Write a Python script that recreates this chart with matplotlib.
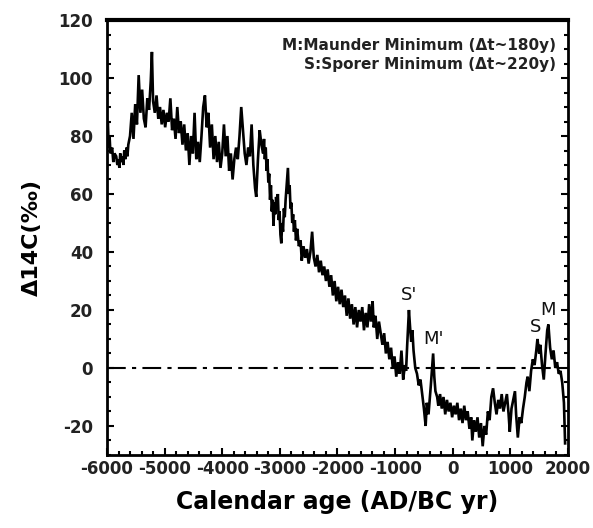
import numpy as np
import matplotlib
matplotlib.use("Agg")
import matplotlib.pyplot as plt
from matplotlib.ticker import MultipleLocator

plt.rcParams['axes.unicode_minus'] = False

# --- data (calendar year, delta 14C permil) ---
years_a = [-6000, -5985, -5970, -5955, -5940, -5910, -5890, -5870, -5840, -5820, -5800, -5785,
           -5770, -5750, -5730, -5715, -5700, -5680, -5660, -5645, -5630,
           -5600, -5570, -5540, -5510, -5480, -5450, -5420, -5390, -5360, -5330, -5300, -5270,
           -5240, -5220, -5200, -5170, -5140, -5110, -5080, -5050, -5020, -4990, -4960, -4930,
           -4900, -4870, -4840, -4810, -4780, -4750, -4720, -4690, -4660, -4630, -4600, -4570,
           -4540, -4510, -4480, -4450, -4420, -4390, -4360, -4330, -4300, -4270, -4240]
d14c_a = [78, 85, 76, 80, 74, 76, 71, 74, 73, 70, 72, 69, 74, 71, 73, 70, 75, 72, 76, 73, 77,
          80, 88, 79, 91, 84, 101, 88, 96, 86, 83, 93, 89,
          99, 109, 92, 88, 94, 86, 90, 84, 89, 83, 88, 85,
          93, 82, 86, 79, 90, 81, 85, 77, 84, 75, 81, 70,
          80, 74, 88, 72, 78, 71, 80, 90, 94, 83, 88]

years_b = [-4210, -4180, -4150, -4120, -4090, -4060, -4030, -4000, -3970, -3940, -3910, -3880,
           -3850, -3820, -3790, -3760, -3730, -3700, -3670, -3640, -3610, -3580, -3550, -3520,
           -3490, -3460, -3430, -3410, -3380, -3350, -3320, -3290, -3275, -3260, -3245, -3230,
           -3215, -3200, -3185, -3170, -3155, -3140, -3125, -3110, -3095, -3080, -3065, -3050,
           -3035, -3020, -3005, -2990, -2975, -2960, -2945, -2930, -2915, -2900, -2885, -2870,
           -2860, -2845, -2830, -2815, -2800, -2785, -2770, -2755, -2740, -2720, -2700,
           -2670, -2640, -2620, -2590, -2560, -2530, -2500,
           -2470, -2440, -2410, -2380, -2350, -2320, -2290, -2260, -2230, -2200, -2170, -2140]
d14c_b = [76, 84, 72, 80, 71, 78, 69, 74, 84, 73, 80, 68,
          74, 65, 72, 76, 72, 80, 90, 82, 74, 70, 76, 73,
          84, 70, 62, 59, 72, 82, 77, 74, 79, 72, 76, 68,
          72, 64, 67, 58, 63, 54, 58, 49, 57, 53, 59, 55,
          60, 51, 54, 46, 43, 50, 47, 55, 52, 58, 62, 66,
          69, 60, 63, 55, 57, 50, 53, 47, 51, 44, 48,
          42, 44, 37, 42, 38, 41, 36,
          40, 47, 38, 35, 39, 33, 37, 32, 35, 30, 34, 28]

years_c = [-2110, -2080, -2050, -2020, -1990, -1960, -1930, -1900, -1870, -1840, -1810, -1780,
           -1750, -1720, -1690, -1660, -1630, -1600, -1570, -1540, -1510, -1480, -1450, -1420,
           -1390, -1370, -1340, -1310, -1280, -1250, -1220, -1190, -1160, -1130, -1100, -1070,
           -1040, -1010, -980, -950, -920, -890, -860, -830, -810, -790, -770, -760, -740, -720,
           -700, -680, -650, -620, -590, -560, -530, -500, -470, -450, -420, -380, -350, -340,
           -320, -300, -270]
d14c_c = [32, 25, 30, 23, 28, 22, 27, 21, 25, 18, 24, 17,
          22, 15, 21, 14, 20, 16, 21, 13, 19, 14, 22, 16,
          23, 14, 18, 10, 16, 12, 8, 12, 5, 9, 3, 7,
          0, 4, -3, 2, -2, 6, -4, 1, -1, 8, 16, 20, 14, 9,
          13, 6, 0, -2, -6, -4, -9, -14, -20, -12, -16, -6, 2, 5,
          -3, -8, -10]

years_d = [-250, -220, -190, -160, -130, -100, -70, -40, -10, 20, 50, 80, 110, 140, 170, 200,
           230, 260, 290, 320, 340, 370, 400, 430, 460, 490, 520, 550, 580, 610, 640, 670,
           700, 730, 760, 790, 820, 850, 880, 910, 940, 970, 990, 1020, 1050, 1080, 1100, 1130,
           1160, 1190, 1220, 1250, 1280, 1300, 1330, 1360, 1390, 1420, 1450, 1470, 1500, 1520,
           1550, 1580, 1610, 1640, 1660, 1690, 1720, 1750, 1780, 1810, 1840, 1870, 1900, 1930, 1950]
d14c_d = [-13, -9, -14, -10, -16, -11, -15, -12, -17, -13, -16, -12, -18, -14, -19, -13,
          -18, -15, -21, -17, -25, -18, -22, -17, -24, -19, -27, -20, -23, -15, -18, -10,
          -7, -12, -16, -11, -14, -9, -15, -12, -9, -16, -22, -14, -11, -8, -16, -24,
          -17, -19, -14, -10, -5, -3, -8, -1, 3, 1, 6, 10, 5, 8,
          1, -4, 5, 13, 15, 7, 3, 6, 0, 2, -2, -1, -5, -12, -26]

years = years_a + years_b + years_c + years_d
d14c = d14c_a + d14c_b + d14c_c + d14c_d

# labels for the solar minima
minima_labels = ["S'", "M'", "S", "M"]
minima_x = [-750, -330, 1440, 1660]
minima_y = [25, 10, 14, 20]

fig = plt.figure(figsize=(5.93, 5.28), dpi=100)
ax = fig.add_axes([0.1804, 0.1383, 0.7774, 0.8238])

ax.plot(years, d14c, color='black', lw=1.9, solid_joinstyle='miter')
ax.axhline(0, color='black', lw=1.5, linestyle=(0, (9, 3, 2, 3)))

for lab, xx, yy in zip(minima_labels, minima_x, minima_y):
    ax.text(xx, yy, lab, fontsize=13, ha='center', va='center', color='#111')

ax.text(0.975, 0.942, "M:Maunder Minimum (\u0394t~180y)", transform=ax.transAxes,
        ha='right', va='center', fontsize=11, fontweight='bold', color='#222')
ax.text(0.975, 0.897, "S:Sporer Minimum (\u0394t~220y)", transform=ax.transAxes,
        ha='right', va='center', fontsize=11, fontweight='bold', color='#222')

ax.set_xlim(-6000, 2000)
ax.set_ylim(-30, 120)
ax.xaxis.set_major_locator(MultipleLocator(1000))
ax.xaxis.set_minor_locator(MultipleLocator(200))
ax.yaxis.set_major_locator(MultipleLocator(20))
ax.yaxis.set_minor_locator(MultipleLocator(5))
ax.tick_params(which='both', direction='in', left=True, right=True, bottom=True, top=False,
               width=1.5, colors='black', labelcolor='#222')
ax.tick_params(which='major', length=5, labelsize=12)
ax.tick_params(which='minor', length=3)
ax.tick_params(axis='y', which='both', labelright=False, pad=10)

for lab in ax.get_xticklabels() + ax.get_yticklabels():
    lab.set_fontweight('bold')

for side in ['left', 'bottom', 'right']:
    ax.spines[side].set_linewidth(2)
ax.spines['top'].set_linewidth(3)

ax.set_ylabel("\u039414C(\u2030)", fontsize=16, fontweight='bold', labelpad=12)
ax.set_xlabel("Calendar age (AD/BC yr)", fontsize=17, fontweight='bold', labelpad=9)

fig.savefig("out.png", dpi=100)
